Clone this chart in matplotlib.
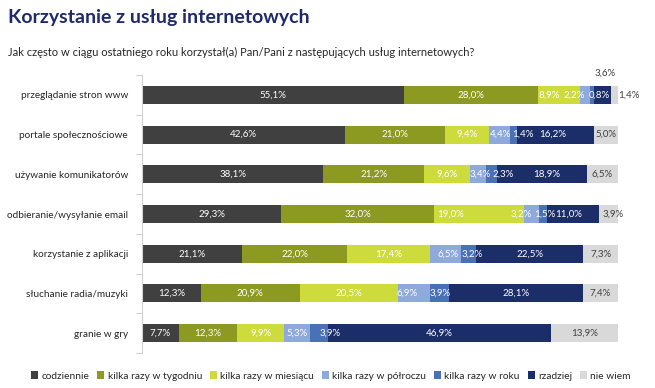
import matplotlib
matplotlib.use('Agg')
import matplotlib.pyplot as plt
from matplotlib.patches import Patch
import numpy as np

FONT = ['Lato', 'DejaVu Sans']
plt.rcParams['font.family'] = FONT

categories = [
    'przeglądanie stron www',
    'portale społecznościowe',
    'używanie komunikatorów',
    'odbieranie/wysyłanie email',
    'korzystanie z aplikacji',
    'słuchanie radia/muzyki',
    'granie w gry',
]
series_names = ['codziennie', 'kilka razy w tygodniu', 'kilka razy w miesiącu',
                'kilka razy w półroczu', 'kilka razy w roku', 'rzadziej', 'nie wiem']
codziennie = [55.1, 42.6, 38.1, 29.3, 21.1, 12.3, 7.7]
tygodniu = [28.0, 21.0, 21.2, 32.0, 22.0, 20.9, 12.3]
miesiacu = [8.9, 9.4, 9.6, 19.0, 17.4, 20.5, 9.9]
polroczu = [2.2, 4.4, 3.4, 3.2, 6.5, 6.9, 5.3]
roku = [0.8, 1.4, 2.3, 1.5, 3.2, 3.9, 3.9]
rzadziej = [3.6, 16.2, 18.9, 11.0, 22.5, 28.1, 46.9]
nie_wiem = [1.4, 5.0, 6.5, 3.9, 7.3, 7.4, 13.9]
values = [codziennie, tygodniu, miesiacu, polroczu, roku, rzadziej, nie_wiem]

colors = ['#404040', '#8C9A22', '#CDDB3C', '#8EA9DB', '#4A70B8', '#1C2E6A', '#D9D9D9']
text_colors = ['white', 'white', 'white', 'white', 'white', 'white', '#404040']

# manual nudges for crowded labels (row, series) -> (dx in %, dy in rows)
nudges = {
    (0, 2): (-2.0, 0), (0, 3): (-2.4, 0), (0, 4): (1.4, 0),
    (0, 5): (0.5, -0.55), (0, 6): (2.9, 0),
    (1, 3): (0.2, 0), (1, 4): (2.0, 0), (1, 5): (-0.6, 0),
    (2, 3): (0.4, 0), (2, 4): (2.4, 0), (2, 5): (1.0, 0),
    (3, 2): (-6.0, 0), (3, 3): (-2.3, 0), (3, 4): (0.3, 0),
    (3, 5): (-0.9, 0), (3, 6): (1.0, 0),
    (4, 3): (0.6, 0), (4, 4): (0.8, 0),
    (5, 3): (-1.5, 0),
    (6, 4): (2.3, 0),
}

fig = plt.figure(figsize=(6.55, 3.88), dpi=100)
fig.patch.set_facecolor('white')
ax = fig.add_axes([142 / 655, 1 - 353 / 388, 476 / 655, 278 / 388])

y = np.arange(len(categories))
left = np.zeros(len(categories))
for si, (name, vals) in enumerate(zip(series_names, values)):
    vals = np.array(vals)
    ax.barh(y, vals, left=left, height=0.45, color=colors[si], label=name,
            edgecolor='none')
    for ri, v in enumerate(vals):
        dx, dy = nudges.get((ri, si), (0, 0))
        tc = text_colors[si]
        if (ri, si) in [(0, 5), (0, 6)]:
            tc = '#404040'
        ax.text(left[ri] + v / 2 + dx, y[ri] + dy, f'{v:.1f}%'.replace('.', ','),
                ha='center', va='center', fontsize=7, color=tc)
    left += vals

ax.set_xlim(0, 100)
ax.set_ylim(len(categories) - 0.5, -0.5)
ax.set_yticks(y)
ax.set_yticklabels(categories, fontsize=7.2, color='#262626')
ax.set_yticks(np.arange(-0.5, len(categories)), minor=True)
ax.tick_params(axis='y', which='major', length=0, pad=10)
ax.tick_params(axis='y', which='minor', length=4, color='#D0D0D0', width=0.8)
ax.set_xticks([])
for s in ['top', 'right', 'bottom']:
    ax.spines[s].set_visible(False)
ax.spines['left'].set_color('#D0D0D0')
ax.spines['left'].set_linewidth(0.8)

fig.text(8 / 655, 1 - 18 / 388, 'Korzystanie z usług internetowych', fontsize=14,
         fontweight='bold', color='#1F2A6B', ha='left', va='center')
fig.text(8 / 655, 1 - 52 / 388,
         'Jak często w ciągu ostatniego roku korzystał(a) Pan/Pani z następujących usług internetowych?',
         fontsize=8, color='#262626', ha='left', va='center')

handles = [Patch(facecolor=c, edgecolor='none') for c in colors]
fig.legend(handles, series_names, loc='center', bbox_to_anchor=(331 / 655, 1 - 376 / 388),
           ncol=7, frameon=False, fontsize=7.3, handlelength=0.7, handleheight=0.7,
           handletextpad=0.3, columnspacing=0.8, labelcolor='#262626')

fig.savefig('out.png', dpi=100, facecolor='white')
